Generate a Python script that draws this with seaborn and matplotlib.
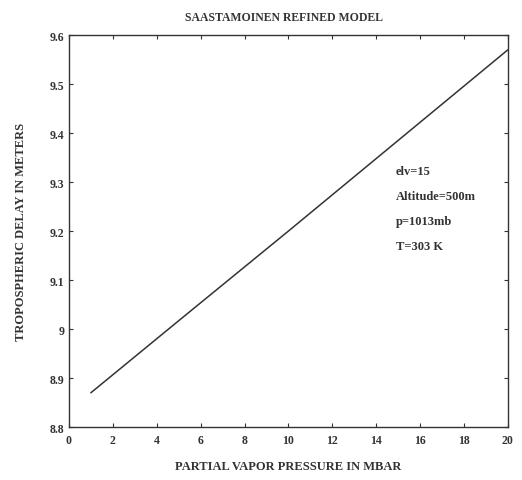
import matplotlib
matplotlib.use("Agg")
import pandas as pd
import matplotlib.pyplot as plt
import seaborn as sns

# values
vapor_pressure = [1, 5, 10, 15, 20]
delay = [8.87, 9.017, 9.20, 9.385, 9.57]
notes = ["elv=15", "Altitude=500m", "p=1013mb", "T=303 K"]

df = pd.DataFrame({"e": vapor_pressure, "delay": delay})

sns.set_theme(style="ticks")
plt.rcParams["font.family"] = ["Liberation Serif", "DejaVu Serif"]
plt.rcParams["font.weight"] = "bold"
plt.rcParams["xtick.direction"] = "in"
plt.rcParams["ytick.direction"] = "in"

fig = plt.figure(figsize=(5.22, 4.81), dpi=100)
ax = fig.add_axes([0.132, 0.110, 0.841, 0.815])

sns.lineplot(data=df, x="e", y="delay", color="#333333", linewidth=1.1, ax=ax)

ax.set_xlim(0, 20)
ax.set_ylim(8.8, 9.6)
ax.set_xticks(range(0, 21, 2))
ax.set_yticks([8.8, 8.9, 9.0, 9.1, 9.2, 9.3, 9.4, 9.5, 9.6])
ax.set_yticklabels(["8.8", "8.9", "9", "9.1", "9.2", "9.3", "9.4", "9.5", "9.6"])
ax.tick_params(axis="both", labelsize=8.5, length=3, width=0.8, colors="#333333",
               top=True, right=True)
ax.tick_params(axis="x", pad=5)
for s in ax.spines.values():
    s.set_linewidth(1.0)
    s.set_color("#333333")

for i, t in enumerate(notes):
    ax.text(14.9, 9.322 - i * 0.051, t, fontsize=9, fontweight="bold",
            color="#333333", va="center")

fig.text(0.545, 0.963, "SAASTAMOINEN REFINED MODEL", ha="center", va="center",
         fontsize=8.5, fontweight="bold", color="#333333")
ax.set_xlabel("PARTIAL VAPOR PRESSURE IN MBAR", fontsize=9, fontweight="bold",
              color="#333333", labelpad=10)
ax.set_ylabel("TROPOSPHERIC DELAY IN METERS", fontsize=9, fontweight="bold",
              color="#333333", labelpad=16)

fig.savefig("out.png", dpi=100, facecolor="white")
